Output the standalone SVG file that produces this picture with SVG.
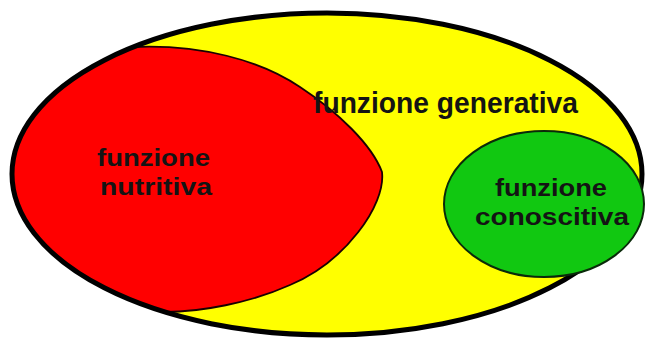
<svg xmlns="http://www.w3.org/2000/svg" width="647" height="340" viewBox="0 0 647 340">
<style>
.t{font-family:"Liberation Sans",Arial,sans-serif;font-weight:bold;fill:#141414}
</style>
<rect width="647" height="340" fill="#ffffff"/>
<g id="generativa">
<ellipse cx="327" cy="174" rx="315" ry="161" fill="#ffff00"/>
</g>
<g id="nutritiva">
<path d="M133,47 C200,44 260,60 300,87 C338,112 372,145 382,172 C386,205 345,262 290,285 C250,303 200,312 165,312 A315,161 0 0 1 133,47 Z" fill="#ff0000" stroke="#1a0000" stroke-width="1.8"/>
<text class="t" font-size="24" x="97" y="166" textLength="113" lengthAdjust="spacingAndGlyphs">funzione</text>
<text class="t" font-size="24" x="100" y="195" textLength="112" lengthAdjust="spacingAndGlyphs">nutritiva</text>
</g>
<g id="generativa-border">
<ellipse cx="327" cy="174" rx="315" ry="161" fill="none" stroke="#000" stroke-width="5"/>
<text class="t" font-size="29" x="313" y="113" textLength="265" lengthAdjust="spacingAndGlyphs">funzione generativa</text>
</g>
<g id="conoscitiva">
<ellipse cx="544" cy="204" rx="100" ry="73" fill="#11c811" stroke="#0a2a0a" stroke-width="2"/>
<text class="t" font-size="24" x="495" y="196" textLength="112" lengthAdjust="spacingAndGlyphs">funzione</text>
<text class="t" font-size="24" x="475" y="225" textLength="154" lengthAdjust="spacingAndGlyphs">conoscitiva</text>
</g>
<g id="connectors"/>
</svg>
